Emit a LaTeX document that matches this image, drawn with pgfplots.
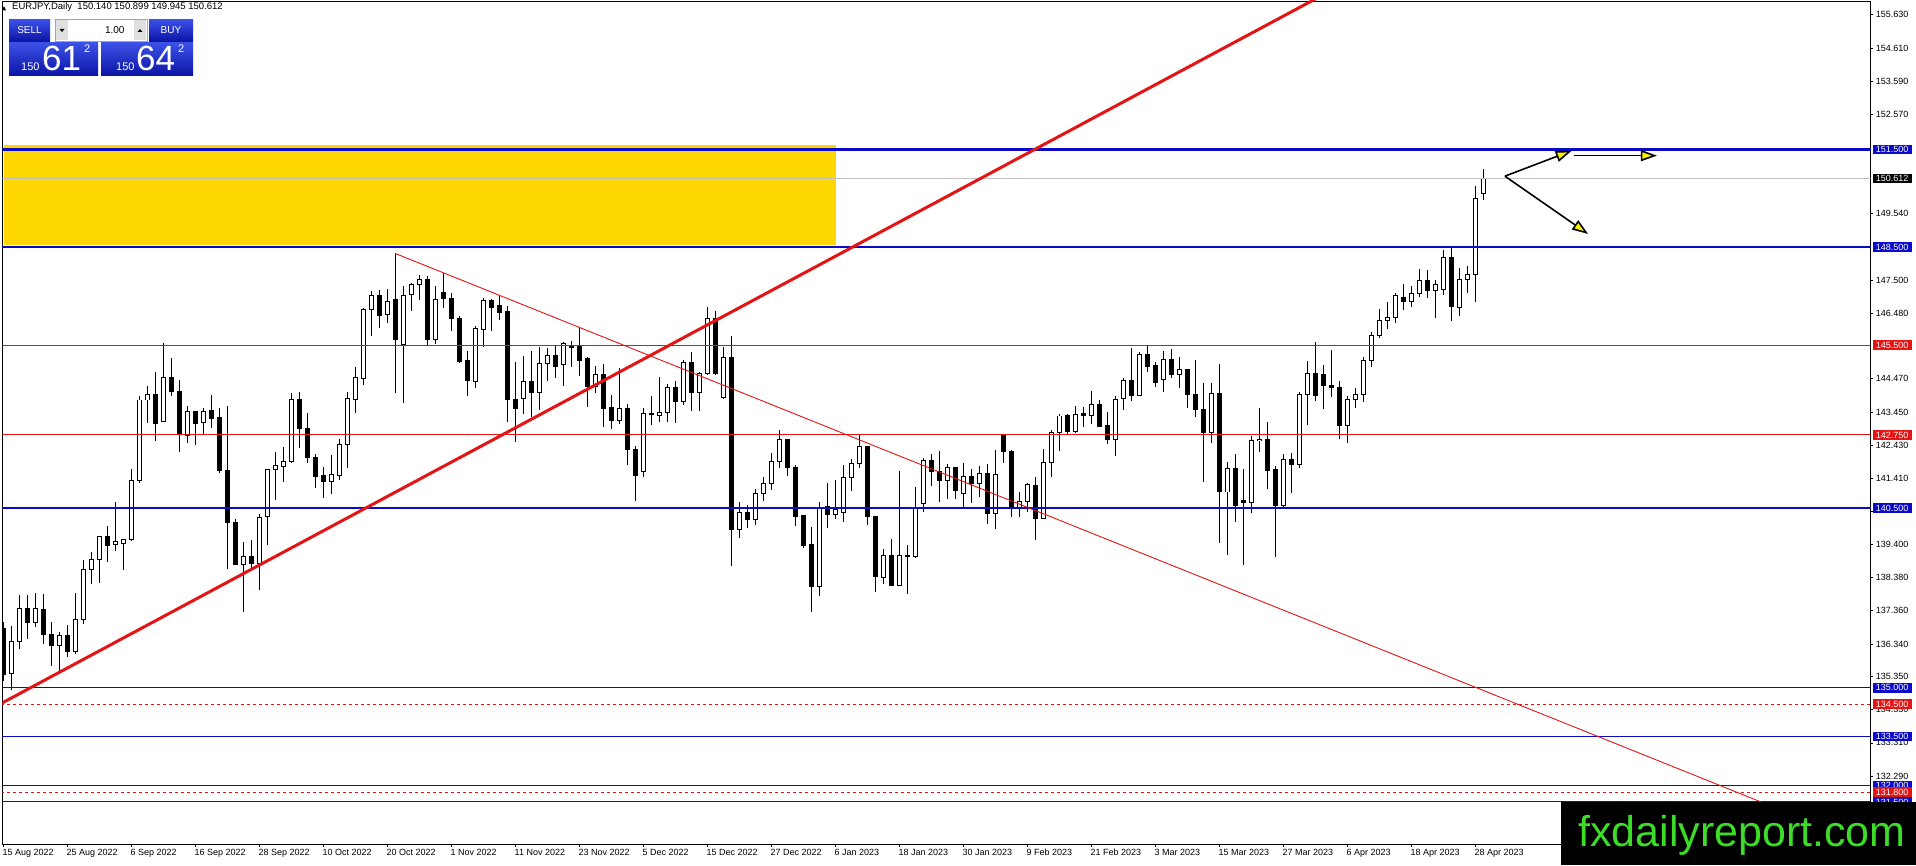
\documentclass[border=0pt]{standalone}
\usepackage{pgfplots}
\pgfplotsset{compat=1.18}
\usepackage{pgfplotstable}
\usepackage{fontspec}
\setmainfont{Liberation Sans}
\usetikzlibrary{arrows.meta}

\definecolor{mtblue}{RGB}{10,10,200}
\definecolor{mtred}{RGB}{228,20,20}
\definecolor{mtgold}{RGB}{255,215,0}
\definecolor{mtgray}{RGB}{192,192,192}
\definecolor{pbtop}{RGB}{60,80,230}
\definecolor{pbbot}{RGB}{10,20,165}
\definecolor{logogreen}{RGB}{60,220,40}

% EURJPY daily candles, i = bar index from 15 Aug 2022
\pgfplotstableread{
i o h l c
0 136.81 137.02 135.21 135.41
1 135.43 136.88 134.92 136.43
2 136.43 137.83 136.20 137.42
3 137.42 137.83 136.50 136.99
4 136.99 137.91 136.86 137.42
5 137.39 137.88 136.35 136.63
6 136.63 137.00 135.67 136.28
7 136.28 136.71 135.48 136.60
8 136.60 136.93 135.94 136.10
9 136.10 137.91 136.02 137.09
10 137.09 138.91 136.96 138.62
11 138.62 139.15 138.19 138.93
12 138.93 139.65 138.21 139.64
13 139.65 139.95 138.86 139.35
14 139.39 140.69 139.19 139.47
15 139.42 139.57 138.62 139.55
16 139.54 141.69 139.50 141.35
17 141.35 143.94 141.28 143.82
18 143.82 144.25 143.10 143.99
19 143.99 144.68 142.57 143.10
20 143.16 145.56 143.16 144.52
21 144.52 145.10 143.94 144.07
22 144.09 144.44 142.23 142.76
23 142.72 143.64 142.49 143.46
24 143.46 143.46 142.44 143.10
25 143.13 143.57 142.75 143.46
26 143.49 143.98 142.95 143.26
27 143.29 143.57 141.57 141.66
28 141.66 143.64 138.65 140.08
29 140.08 140.18 138.75 138.77
30 138.77 139.47 137.32 139.01
31 139.01 139.52 138.62 138.82
32 138.82 140.34 137.99 140.23
33 140.26 141.72 139.37 141.70
34 141.70 142.22 140.76 141.82
35 141.78 142.39 141.32 141.94
36 141.93 144.05 141.88 143.84
37 143.84 144.05 142.34 142.94
38 142.95 143.41 141.88 142.06
39 142.06 142.17 141.11 141.47
40 141.49 141.78 140.81 141.32
41 141.32 142.14 140.94 141.54
42 141.52 142.62 141.37 142.46
43 142.46 144.05 141.73 143.87
44 143.84 144.83 143.41 144.52
45 144.49 146.63 144.28 146.58
46 146.58 147.15 145.77 147.01
47 147.02 147.20 146.02 146.41
48 146.43 147.22 146.17 146.84
49 146.89 148.32 144.05 145.66
50 145.51 147.32 143.72 147.02
51 147.04 147.42 146.56 147.35
52 147.35 147.66 146.89 147.50
53 147.50 147.63 145.51 145.68
54 145.68 147.32 145.54 146.91
55 147.11 147.71 146.63 146.93
56 146.94 147.09 145.92 146.33
57 146.33 146.40 144.95 145.00
58 145.02 145.31 143.95 144.42
59 144.39 146.09 144.18 146.02
60 145.97 146.94 145.44 146.86
61 146.86 146.91 145.92 146.66
62 146.71 147.04 146.28 146.50
63 146.52 146.71 143.16 143.82
64 143.84 145.00 142.52 143.57
65 143.88 145.17 143.40 144.39
66 144.39 145.31 143.31 144.05
67 144.05 145.44 143.52 144.95
68 144.93 145.41 144.39 145.18
69 145.18 145.48 144.49 144.85
70 144.92 145.61 144.25 145.54
71 145.49 145.64 144.83 145.44
72 145.46 146.07 144.56 145.03
73 145.08 145.13 143.60 144.23
74 144.23 144.85 144.05 144.61
75 144.61 144.93 142.99 143.57
76 143.60 143.98 142.94 143.19
77 143.19 144.79 143.09 143.57
78 143.57 143.70 141.83 142.31
79 142.31 142.41 140.71 141.50
80 141.63 143.57 141.47 143.42
81 143.42 143.95 143.06 143.36
82 143.36 144.54 143.16 143.45
83 143.44 144.30 143.16 144.21
84 144.21 144.39 143.11 143.77
85 143.77 145.05 143.67 144.97
86 144.97 145.28 143.47 144.05
87 144.05 144.69 143.47 144.64
88 144.64 146.67 144.59 146.33
89 146.33 146.56 144.59 144.64
90 143.91 145.44 143.84 145.13
91 145.12 145.78 138.72 139.85
92 139.85 140.70 139.59 140.37
93 140.37 140.60 139.90 140.16
94 140.16 141.10 140.00 140.95
95 140.95 141.46 140.73 141.26
96 141.26 142.21 141.05 141.93
97 141.93 142.89 141.75 142.61
98 142.61 142.61 141.49 141.75
99 141.75 141.82 139.95 140.24
100 140.28 140.28 139.27 139.36
101 139.39 139.93 137.33 138.10
102 138.10 140.70 137.82 140.54
103 140.54 141.28 139.91 140.32
104 140.32 141.38 140.16 140.46
105 140.36 141.84 140.08 141.43
106 141.43 142.01 141.03 141.87
107 141.87 142.79 141.75 142.40
108 142.40 142.40 139.98 140.24
109 140.26 140.26 137.94 138.40
110 138.38 139.25 138.19 139.04
111 139.04 139.57 138.11 138.14
112 138.13 141.64 138.11 139.04
113 139.03 139.37 137.86 139.05
114 139.01 141.14 138.99 140.52
115 140.65 142.05 140.39 141.95
116 141.95 142.16 141.19 141.62
117 141.62 142.25 140.70 141.34
118 141.34 141.85 140.78 141.75
119 141.75 141.75 140.77 141.05
120 140.95 141.90 140.54 141.48
121 141.48 141.69 140.67 141.26
122 141.26 141.79 140.85 141.57
123 141.57 141.87 140.03 140.34
124 140.34 142.28 139.86 141.55
125 142.76 142.79 141.89 142.23
126 142.25 142.28 140.22 140.52
127 140.54 141.00 140.22 140.70
128 140.70 141.29 140.39 141.24
129 141.21 141.46 139.52 140.19
130 140.19 142.33 140.16 141.90
131 141.90 142.89 141.46 142.82
132 142.82 143.39 142.27 143.33
133 143.33 143.39 142.78 142.85
134 142.85 143.64 142.82 143.38
135 143.41 143.62 142.99 143.34
136 143.34 144.10 143.09 143.69
137 143.69 143.82 142.98 143.01
138 143.03 143.45 142.48 142.62
139 142.62 143.93 142.09 143.84
140 143.88 144.49 143.50 144.41
141 144.41 145.41 143.80 143.95
142 143.95 145.28 143.93 145.22
143 145.22 145.48 144.69 144.85
144 144.87 145.00 144.23 144.36
145 144.46 145.33 144.05 145.07
146 145.07 145.38 144.49 144.61
147 144.61 145.15 144.18 144.76
148 144.76 144.76 143.57 144.00
149 144.00 145.05 143.29 143.54
150 143.54 144.34 141.32 142.82
151 142.82 144.34 142.50 144.03
152 144.03 144.93 139.43 141.00
153 141.00 141.93 139.07 141.73
154 141.73 142.17 140.09 140.58
155 140.73 141.71 138.77 140.69
156 140.69 142.73 140.37 142.57
157 142.57 143.59 142.24 142.62
158 142.62 143.14 141.10 141.66
159 141.68 141.80 139.02 140.58
160 140.60 142.16 140.55 142.01
161 142.01 142.19 140.98 141.85
162 141.85 144.05 141.73 144.00
163 144.00 145.03 143.06 144.64
164 144.64 145.59 143.80 143.95
165 144.59 144.90 143.55 144.26
166 144.28 145.36 143.91 144.21
167 144.20 144.41 142.63 143.04
168 143.04 143.93 142.50 143.82
169 143.83 144.19 143.57 144.00
170 144.00 145.14 143.75 145.03
171 145.03 145.89 144.83 145.81
172 145.81 146.61 145.72 146.26
173 146.26 146.82 146.00 146.36
174 146.36 147.10 146.18 147.02
175 146.95 147.38 146.59 146.84
176 146.84 147.32 146.67 147.07
177 147.07 147.82 146.98 147.49
178 147.49 147.80 146.95 147.18
179 147.18 147.51 146.33 147.36
180 147.22 148.43 147.05 148.20
181 148.20 148.55 146.23 146.67
182 146.67 147.87 146.38 147.51
183 147.51 147.94 147.10 147.68
184 147.68 150.39 146.81 150.01
185 150.140 150.899 149.945 150.612
}\candles

\begin{document}
\begin{tikzpicture}
\useasboundingbox (0pt,0pt) rectangle (1916pt,865pt);
\begin{axis}[
  at={(2.3pt,20.7pt)}, anchor=south west,
  scale only axis, width=1868.4pt, height=843.3pt,
  xmin=-0.125, xmax=233.43, ymin=130.20, ymax=156.05,
  clip mode=individual,
  axis line style={black, line width=0.8pt},
  tick align=outside, major tick length=2.5pt,
  major tick style={black, line width=0.6pt},
  xtick pos=left, ytick pos=right, yticklabel pos=right,
  xtick={0,8,...,184},
  xticklabels={15 Aug 2022,25 Aug 2022,6 Sep 2022,16 Sep 2022,28 Sep 2022,10 Oct 2022,20 Oct 2022,1 Nov 2022,11 Nov 2022,23 Nov 2022,5 Dec 2022,15 Dec 2022,27 Dec 2022,6 Jan 2023,18 Jan 2023,30 Jan 2023,9 Feb 2023,21 Feb 2023,3 Mar 2023,15 Mar 2023,27 Mar 2023,6 Apr 2023,18 Apr 2023,28 Apr 2023},
  ytick={155.63,154.61,153.59,152.57,149.54,147.5,146.48,144.47,143.45,142.43,141.41,140.42,139.40,138.38,137.36,136.34,135.35,134.33,133.31,132.29},
  yticklabels={155.630,154.610,153.590,152.570,149.540,147.500,146.480,144.470,143.450,142.430,141.410,140.420,139.400,138.380,137.360,136.340,135.350,134.330,133.310,132.290},
  ticklabel style={font=\fontsize{9}{10}\selectfont},
  xticklabel style={anchor=north west, inner sep=0pt, xshift=-0.8pt, yshift=-2pt},
  yticklabel style={anchor=west, inner sep=0pt, xshift=2.5pt},
]
% supply zone
\addplot[draw=none, fill=mtgold, forget plot] coordinates {(0.05,148.57) (104.1,148.57) (104.1,151.65) (0.05,151.65)} -- cycle;

% wicks
\addplot[draw=none, mark=none, forget plot,
  error bars/.cd, y dir=both, y explicit, error mark=none,
  error bar style={draw=black, solid, line width=1pt}]
  table[x=i, y expr={(\thisrow{h}+\thisrow{l})/2}, y error expr={(\thisrow{h}-\thisrow{l})/2}] {\candles};
% body outlines (black)
\addplot[draw=none, mark=none, forget plot,
  error bars/.cd, y dir=both, y explicit, error mark=none,
  error bar style={draw=black, solid, line width=5pt}]
  table[x=i, y expr={(\thisrow{o}+\thisrow{c})/2}, y error expr={abs(\thisrow{o}-\thisrow{c})/2+0.015}] {\candles};
% white fill of bullish bodies
\addplot[draw=none, mark=none, forget plot,
  error bars/.cd, y dir=both, y explicit, error mark=none,
  error bar style={draw=white, solid, line width=3pt}]
  table[x=i, y expr={(\thisrow{o}+\thisrow{c})/2}, y error expr={max(\thisrow{c}-\thisrow{o}-0.03,0)/2}] {\candles};

% horizontal levels
\addplot[mtgray, line width=0.9pt, forget plot] coordinates {(-1,150.612) (240,150.612)};
\addplot[mtblue, line width=2.3pt, forget plot] coordinates {(-1,151.5) (240,151.5)};
\addplot[mtblue, line width=2.3pt, forget plot] coordinates {(-1,148.5) (240,148.5)};
\addplot[mtred, line width=1pt, forget plot] coordinates {(-1,145.5) (240,145.5)};
\addplot[mtred, line width=1pt, forget plot] coordinates {(-1,142.75) (240,142.75)};
\addplot[mtblue, line width=2.3pt, forget plot] coordinates {(-1,140.5) (240,140.5)};
\addplot[mtblue, line width=1pt, forget plot] coordinates {(-1,135.0) (240,135.0)};
\addplot[mtred, line width=1pt, dash pattern=on 3pt off 3pt, forget plot] coordinates {(-1,134.5) (240,134.5)};
\addplot[mtblue, line width=1pt, forget plot] coordinates {(-1,133.5) (240,133.5)};
\addplot[mtblue, line width=1pt, forget plot] coordinates {(-1,132.0) (240,132.0)};
\addplot[mtred, line width=1pt, dash pattern=on 3pt off 3pt, forget plot] coordinates {(-1,131.8) (240,131.8)};
\addplot[mtblue, line width=1pt, forget plot] coordinates {(-1,131.5) (240,131.5)};

% trend lines
\addplot[mtred, line width=3pt, forget plot] coordinates {(-1,134.42) (170,156.90)};
\addplot[mtred, line width=0.9pt, forget plot] coordinates {(49,148.31) (240,129.50)};

% projection arrows
\addplot[black, line width=1.6pt, -{Triangle[length=16pt, width=11pt, fill=yellow]}, forget plot] coordinates {(187.7,150.68) (196.05,151.46)};
\addplot[black, line width=1.6pt, -{Triangle[length=16pt, width=11pt, fill=yellow]}, forget plot] coordinates {(187.7,150.68) (198.1,148.91)};
\addplot[black, line width=1.6pt, -{Triangle[length=16pt, width=11pt, fill=yellow]}, forget plot] coordinates {(196.4,151.31) (206.7,151.31)};

\coordinate (a1515) at (axis cs:233.43,151.5);
\coordinate (a1506) at (axis cs:233.43,150.612);
\coordinate (a1485) at (axis cs:233.43,148.5);
\coordinate (a1455) at (axis cs:233.43,145.5);
\coordinate (a1427) at (axis cs:233.43,142.75);
\coordinate (a1405) at (axis cs:233.43,140.5);
\coordinate (a1350) at (axis cs:233.43,135.0);
\coordinate (a1345) at (axis cs:233.43,134.5);
\coordinate (a1335) at (axis cs:233.43,133.5);
\coordinate (a1320) at (axis cs:233.43,132.0);
\coordinate (a1318) at (axis cs:233.43,131.8);
\coordinate (a1315) at (axis cs:233.43,131.5);
\end{axis}

% price boxes on the right scale
\tikzset{lbl/.style={anchor=west, xshift=1.8pt, inner xsep=3.2pt, inner ysep=0pt,
  minimum height=9.6pt, text height=6.5pt, text depth=0pt, text=white,
  font=\fontsize{9}{9}\selectfont}}
\node[lbl, fill=mtblue] at (a1515) {151.500};
\node[lbl, fill=black] at (a1506) {150.612};
\node[lbl, fill=mtblue] at (a1485) {148.500};
\node[lbl, fill=mtred] at (a1455) {145.500};
\node[lbl, fill=mtred] at (a1427) {142.750};
\node[lbl, fill=mtblue] at (a1405) {140.500};
\node[lbl, fill=mtblue] at (a1350) {135.000};
\node[lbl, fill=mtred] at (a1345) {134.500};
\node[lbl, fill=mtblue] at (a1335) {133.500};
\node[lbl, fill=mtblue] at (a1320) {132.000};
\node[lbl, fill=mtred] at (a1318) {131.800};
\node[lbl, fill=mtblue] at (a1315) {131.500};

% header
\fill[black] (2pt,854.5pt) -- (6pt,854.5pt) -- (4pt,859pt) -- cycle;
\node[anchor=west, inner sep=0pt, font=\fontsize{9.5}{10}\selectfont] at (12pt,857.5pt)
  {EURJPY,Daily\ \ 150.140 150.899 149.945 150.612};

% one-click trading panel
\shade[top color=pbtop, bottom color=pbbot] (9pt,823.5pt) rectangle (50pt,845.5pt);
\node[text=white, font=\fontsize{10}{10}\selectfont] at (29.5pt,834.5pt) {SELL};
\draw[fill=white, draw=gray!70] (55pt,823.5pt) rectangle (147pt,845.5pt);
\fill[gray!25] (56pt,824.5pt) rectangle (68pt,844.5pt);
\fill[black] (59.5pt,836pt) -- (64.5pt,836pt) -- (62pt,833pt) -- cycle;
\fill[gray!25] (134pt,824.5pt) rectangle (146pt,844.5pt);
\fill[black] (137.5pt,833pt) -- (142.5pt,833pt) -- (140pt,836pt) -- cycle;
\node[anchor=east, font=\fontsize{10}{10}\selectfont] at (128pt,834.5pt) {1.00};
\shade[top color=pbtop, bottom color=pbbot] (149pt,823.5pt) rectangle (193pt,845.5pt);
\node[text=white, font=\fontsize{10}{10}\selectfont] at (171pt,834.5pt) {BUY};
\shade[top color=pbtop, bottom color=pbbot] (9pt,789pt) rectangle (98pt,822pt);
\shade[top color=pbtop, bottom color=pbbot] (101pt,789pt) rectangle (193pt,822pt);
\node[anchor=base west, inner sep=0pt, text=white, font=\fontsize{11}{11}\selectfont] at (21pt,794pt) {150};
\node[anchor=base west, inner sep=0pt, text=white, font=\fontsize{35}{35}\selectfont] at (42pt,794pt) {61};
\node[anchor=north west, inner sep=0pt, text=white, font=\fontsize{11}{11}\selectfont] at (84pt,820pt) {2};
\node[anchor=base west, inner sep=0pt, text=white, font=\fontsize{11}{11}\selectfont] at (116pt,794pt) {150};
\node[anchor=base west, inner sep=0pt, text=white, font=\fontsize{35}{35}\selectfont] at (136pt,794pt) {64};
\node[anchor=north west, inner sep=0pt, text=white, font=\fontsize{11}{11}\selectfont] at (178pt,820pt) {2};

% watermark
\fill[black] (1561pt,0pt) rectangle (1916pt,63pt);
\node[text=logogreen, font=\fontsize{43}{43}\selectfont] at (1742pt,30pt) {fxdailyreport.com};
\end{tikzpicture}
\end{document}
